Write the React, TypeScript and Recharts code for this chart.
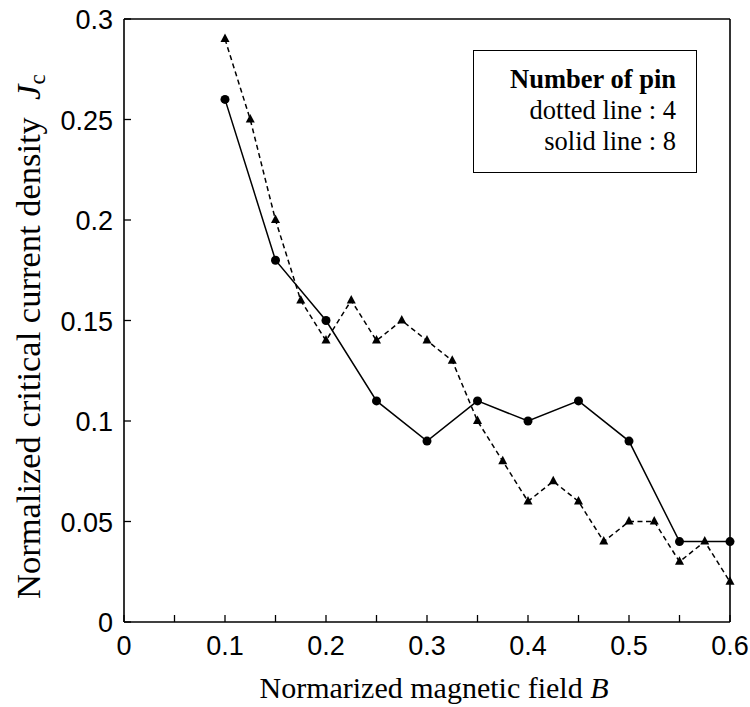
import React from "react";
import { ComposedChart, Line, XAxis, YAxis } from "recharts";

// 8 pins (solid line, circles)
const fieldSolid = [0.1, 0.15, 0.2, 0.25, 0.3, 0.35, 0.4, 0.45, 0.5, 0.55, 0.6];
const jcSolid = [0.26, 0.18, 0.15, 0.11, 0.09, 0.11, 0.1, 0.11, 0.09, 0.04, 0.04];

// 4 pins (dotted line, triangles)
const fieldDotted = [
  0.1, 0.125, 0.15, 0.175, 0.2, 0.225, 0.25, 0.275, 0.3, 0.325, 0.35,
  0.375, 0.4, 0.425, 0.45, 0.475, 0.5, 0.525, 0.55, 0.575, 0.6,
];
const jcDotted = [
  0.29, 0.25, 0.2, 0.16, 0.14, 0.16, 0.14, 0.15, 0.14, 0.13, 0.1,
  0.08, 0.06, 0.07, 0.06, 0.04, 0.05, 0.05, 0.03, 0.04, 0.02,
];

const xTicks = [0, 0.05, 0.1, 0.15, 0.2, 0.25, 0.3, 0.35, 0.4, 0.45, 0.5, 0.55, 0.6];
const xTickLabels = ["0", "", "0.1", "", "0.2", "", "0.3", "", "0.4", "", "0.5", "", "0.6"];
const yTicks = [0, 0.05, 0.1, 0.15, 0.2, 0.25, 0.3];
const yTickLabels = ["0", "0.05", "0.1", "0.15", "0.2", "0.25", "0.3"];

const solidData = fieldSolid.map((b, i) => ({ b, jc: jcSolid[i] }));
const dottedData = fieldDotted.map((b, i) => ({ b, jc: jcDotted[i] }));

const TICK_LEN = 7;
const AXIS_W = 1.6;
const sansFont = "'Liberation Sans', Arial, sans-serif";
const serifFont = "'Liberation Serif', 'Times New Roman', serif";

function BottomTick(props: any) {
  const { x, y, index } = props;
  const label = xTickLabels[index];
  return (
    <g>
      <line x1={x} y1={y} x2={x} y2={y - TICK_LEN} stroke="#000" strokeWidth={1.3} />
      {label ? (
        <text x={x} y={y + 33} textAnchor="middle" fontFamily={sansFont} fontSize={27} fill="#000">
          {label}
        </text>
      ) : null}
    </g>
  );
}

function LeftTick(props: any) {
  const { x, y, index } = props;
  return (
    <g>
      <line x1={x} y1={y} x2={x + TICK_LEN} y2={y} stroke="#000" strokeWidth={1.3} />
      <text x={x - 11} y={y + 10} textAnchor="end" fontFamily={sansFont} fontSize={27} fill="#000">
        {yTickLabels[index]}
      </text>
    </g>
  );
}

function TopTick(props: any) {
  const { x, y } = props;
  return <line x1={x} y1={y} x2={x} y2={y + TICK_LEN} stroke="#000" strokeWidth={1.3} />;
}

function RightTick(props: any) {
  const { x, y } = props;
  return <line x1={x} y1={y} x2={x - TICK_LEN} y2={y} stroke="#000" strokeWidth={1.3} />;
}

function TriangleDot(props: any) {
  const { cx, cy } = props;
  if (cx == null || cy == null) return null;
  return (
    <path
      d={`M${cx},${cy - 5.5} L${cx + 4.5},${cy + 3} L${cx - 4.5},${cy + 3} Z`}
      fill="#000"
      stroke="none"
    />
  );
}

function XTitle() {
  return (
    <text x={434} y={698} textAnchor="middle" fontFamily={serifFont} fontSize={30} fill="#000">
      Normarized magnetic field <tspan fontStyle="italic">B</tspan>
    </text>
  );
}

function YTitle() {
  return (
    <text
      x={0}
      y={0}
      transform="translate(40,599) rotate(-90)"
      textAnchor="start"
      fontFamily={serifFont}
      fontSize={34.5}
      fill="#000"
    >
      Normalized critical current density{"\u00a0\u00a0"}
      <tspan fontStyle="italic">J</tspan>
      <tspan fontSize={23} dy={5}>c</tspan>
    </text>
  );
}

export default function App() {
  return (
    <div style={{ position: "absolute", left: 0, top: 0, width: 750, height: 707, background: "#fff" }}>
      <ComposedChart width={750} height={707} margin={{ top: 0, right: 0, bottom: 0, left: 0 }}>
        <XAxis
          xAxisId="bottom"
          dataKey="b"
          type="number"
          domain={[0, 0.6]}
          ticks={xTicks}
          interval={0}
          height={85}
          tickSize={0}
          tickMargin={0}
          tickLine={false}
          tick={<BottomTick />}
          axisLine={{ stroke: "#000", strokeWidth: AXIS_W }}
          label={{ content: () => <XTitle /> }}
        />
        <XAxis
          xAxisId="top"
          orientation="top"
          dataKey="b"
          type="number"
          domain={[0, 0.6]}
          ticks={xTicks}
          interval={0}
          height={19}
          tickSize={0}
          tickMargin={0}
          tickLine={false}
          tick={<TopTick />}
          axisLine={{ stroke: "#000", strokeWidth: AXIS_W }}
        />
        <YAxis
          yAxisId="left"
          type="number"
          domain={[0, 0.3]}
          ticks={yTicks}
          interval={0}
          width={124}
          tickSize={0}
          tickMargin={0}
          tickLine={false}
          tick={<LeftTick />}
          axisLine={{ stroke: "#000", strokeWidth: AXIS_W }}
          label={{ content: () => <YTitle /> }}
        />
        <YAxis
          yAxisId="right"
          orientation="right"
          type="number"
          domain={[0, 0.3]}
          ticks={yTicks}
          interval={0}
          width={20}
          tickSize={0}
          tickMargin={0}
          tickLine={false}
          tick={<RightTick />}
          axisLine={{ stroke: "#000", strokeWidth: AXIS_W }}
        />
        <Line
          xAxisId="bottom"
          yAxisId="left"
          data={dottedData}
          dataKey="jc"
          type="linear"
          stroke="#000"
          strokeWidth={1.5}
          strokeDasharray="5 3.5"
          dot={<TriangleDot />}
          activeDot={false}
          isAnimationActive={false}
        />
        <Line
          xAxisId="bottom"
          yAxisId="left"
          data={solidData}
          dataKey="jc"
          type="linear"
          stroke="#000"
          strokeWidth={1.5}
          dot={{ r: 4.5, fill: "#000", stroke: "none" }}
          activeDot={false}
          isAnimationActive={false}
        />
      </ComposedChart>
      <div
        style={{
          position: "absolute",
          left: 473,
          top: 50,
          width: 224,
          height: 123,
          boxSizing: "border-box",
          border: "1.5px solid #000",
          background: "#fff",
          fontFamily: serifFont,
          fontSize: 26.5,
          lineHeight: "31px",
          textAlign: "right",
          paddingRight: 20,
          paddingTop: 13,
          color: "#000",
        }}
      >
        <div style={{ fontWeight: "bold" }}>Number of pin</div>
        <div>dotted line : 4</div>
        <div>solid line : 8</div>
      </div>
    </div>
  );
}
